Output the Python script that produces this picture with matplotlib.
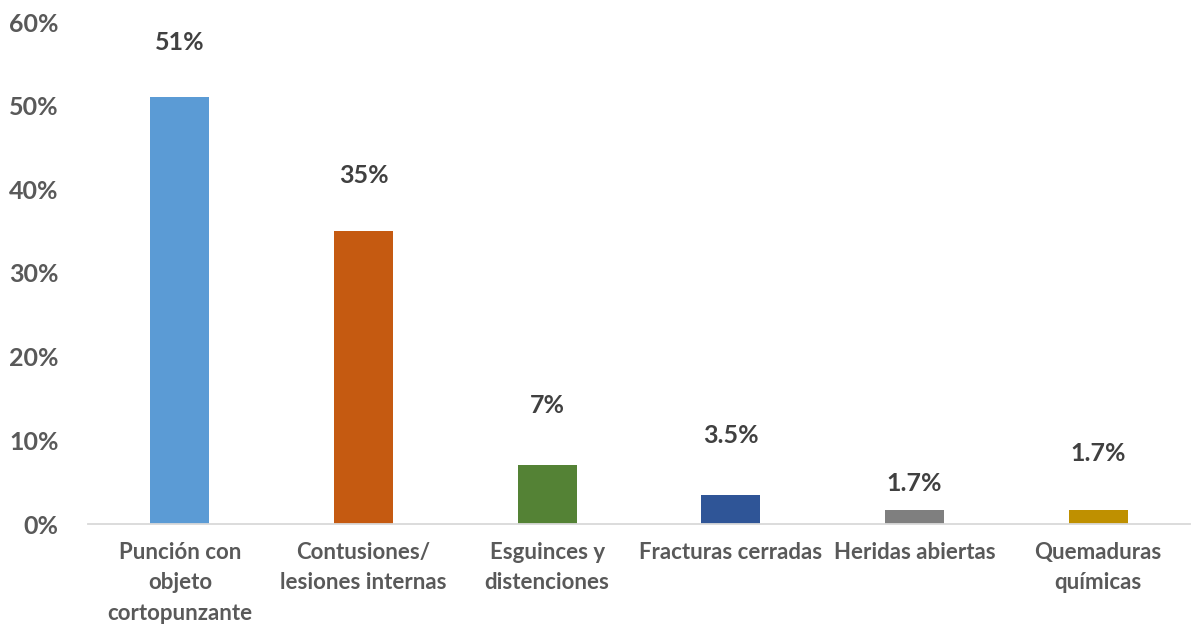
import matplotlib
matplotlib.use("Agg")
import matplotlib.pyplot as plt
from matplotlib.ticker import FuncFormatter

categories = ["Punción con\nobjeto\ncortopunzante", "Contusiones/\nlesiones internas",
              "Esguinces y\ndistenciones", "Fracturas cerradas", "Heridas abiertas",
              "Quemaduras\nquímicas"]
values = [51, 35, 7, 3.5, 1.7, 1.7]
value_labels = ["51%", "35%", "7%", "3.5%", "1.7%", "1.7%"]
yticks = [0, 10, 20, 30, 40, 50, 60]

# styling: label heights (in axis units) as positioned in the original
label_y = [57.6, 41.7, 14.2, 10.6, 4.8, 8.4]
colors = ["#5B9BD5", "#C55A11", "#548235", "#2F5597", "#7F7F7F", "#BF9000"]

plt.rcParams['font.family'] = ['Lato', 'DejaVu Sans']
fig = plt.figure(figsize=(11.91, 6.26), dpi=100)
ax = fig.add_axes([88/1191, 1-524/626, (1190-88)/1191, (524-22)/626])

x = list(range(len(values)))
ax.bar(x, values, width=0.32, color=colors, zorder=2)
for xi, lab, ly in zip(x, value_labels, label_y):
    ax.text(xi, ly, lab, ha='center', va='center', fontsize=18, fontweight='bold', color='#404040')

ax.set_xlim(-0.5, 5.5)
ax.set_ylim(0, 60)
ax.set_yticks(yticks)
ax.yaxis.set_major_formatter(FuncFormatter(lambda v, p: f"{int(v)}%"))
ax.set_xticks(x)
ax.set_xticklabels(categories, fontsize=16, fontweight='bold', color='#595959', linespacing=1.55)
for t in ax.get_yticklabels():
    t.set_fontsize(18); t.set_fontweight('bold'); t.set_color('#595959')
ax.tick_params(axis='both', length=0)
ax.tick_params(axis='x', pad=13)
ax.tick_params(axis='y', pad=21)
for s in ['top', 'right', 'left']:
    ax.spines[s].set_visible(False)
ax.spines['bottom'].set_color('#D9D9D9')
ax.spines['bottom'].set_linewidth(1.3)
fig.savefig("out.png", dpi=100, facecolor='white')
